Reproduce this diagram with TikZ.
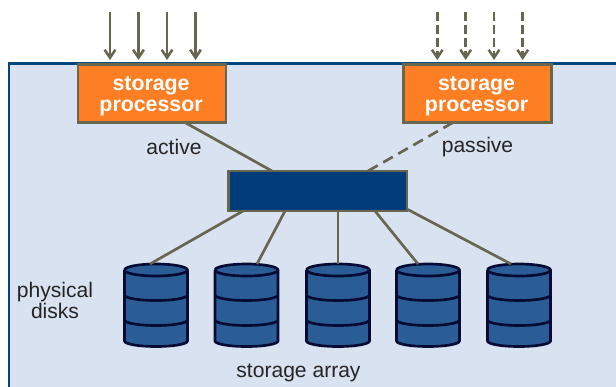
\documentclass[tikz,border=0pt]{standalone}
\usepackage{fontspec}
\setmainfont{Liberation Sans}
\usetikzlibrary{arrows.meta,calc}
\definecolor{panelblue}{HTML}{D9E2F0}
\definecolor{edgeblue}{HTML}{00477F}
\definecolor{sporange}{HTML}{FD7E23}
\definecolor{linkgrey}{HTML}{67664F}
\definecolor{switchblue}{HTML}{003B7A}
\definecolor{diskblue}{HTML}{2A5D96}
\definecolor{diskedge}{HTML}{070B33}
\definecolor{labelgrey}{HTML}{262425}
\tikzset{
    spbox/.style={draw=linkgrey, line width=2pt, fill=sporange, inner sep=0pt, outer sep=0pt,
        minimum width=111pt, minimum height=43.5pt},
    sptext/.style={text=white, align=center, font=\fontsize{16}{16}\selectfont\bfseries, xshift=-0.7pt, yshift=-2.2pt},
    switchbox/.style={draw=linkgrey, line width=2pt, fill=switchblue, inner sep=0pt, outer sep=0pt,
        minimum width=134pt, minimum height=30pt},
    diskbox/.style={inner sep=0pt, outer sep=0pt, minimum width=47.6pt, minimum height=61.5pt},
    caption/.style={text=labelgrey, align=center, font=\fontsize{15.8}{15.8}\selectfont},
    link/.style={draw=linkgrey, line width=2pt},
    feed/.style={draw=linkgrey, line width=1.9pt, -{Straight Barb[length=6pt,width=8pt,line width=1.9pt]}},
    diskline/.style={draw=diskedge, line width=2pt}
}
\begin{document}
\begin{tikzpicture}[x=0.75pt, y=-0.75pt]
    \clip (0,0) rectangle (616,386);
    \draw[edgeblue, fill=panelblue, line width=1.8pt] (9,63.5) rectangle (640,410);

    % request arrows
    \foreach \i/\x in {1/110,2/138.5,3/167,4/195.5}{
        \coordinate (a\i) at (\x,12);
        \coordinate (b\i) at (\x,60);
        \draw[feed] (a\i) -- (b\i);
    }
    \foreach \i/\x in {1/437.3,2/465.7,3/494,4/522.7}{
        \coordinate (c\i) at (\x,12);
        \coordinate (e\i) at (\x,60);
        \draw[feed, dash pattern=on 6.5pt off 3.2pt] (c\i) -- (e\i);
    }

    \node[spbox, label={[sptext]center:storage\\processor}] (sp1) at (152,93.5) {};
    \node[spbox, label={[sptext]center:storage\\processor}] (sp2) at (477.5,93.5) {};
    \node[switchbox] (sw) at (317.5,191) {};

    % disks
    \foreach \i/\x in {1/156,2/246.5,3/338,4/428,5/519}{
        \node[diskbox] (d\i) at (\x,305) {};
        \draw[diskline, fill=diskblue] (\x-31.5,270) -- (\x-31.5,341)
            arc[start angle=180, end angle=0, x radius=31.5, y radius=5.5]
            -- (\x+31.5,270) arc[start angle=0, end angle=-180, x radius=31.5, y radius=6];
        \draw[diskline] (\x-31.5,270) arc[start angle=180, end angle=0, x radius=31.5, y radius=6];
        \draw[diskline] (\x-31.5,295) arc[start angle=180, end angle=0, x radius=31.5, y radius=5.5];
        \draw[diskline] (\x-31.5,320) arc[start angle=180, end angle=0, x radius=31.5, y radius=5.5];
    }

    % connections
    \draw[link] ($(sp1.south)+(33,0)$) -- ($(sw.north)+(-45.5,0)$);
    \draw[link, dash pattern=on 8.3pt off 4.7pt] ($(sp2.south)+(-24.5,0)$) -- ($(sw.north)+(50.5,0)$);
    \draw[link] ($(sw.south)+(-74.5,0)$) -- ($(d1.north)+(-6,0)$);
    \draw[link] ($(sw.south)+(-32.5,0)$) -- ($(d2.north)+(10.5,0)$);
    \draw[link] ($(sw.south)+(20.5,0)$) -- (d3.north);
    \draw[link] ($(sw.south)+(57.5,0)$) -- ($(d4.north)+(-10,0)$);
    \draw[link] ($(sw.south east)+(0,-2)$) -- ($(d5.north)+(-8,0)$);

    \node[caption] (active) at (174,147) {active};
    \node[caption] (passive) at (477.5,147.5) {passive};
    \node[caption] (physical) at (55,300.5) {physical\\disks};
    \node[caption] (array) at (298.5,373) {storage array};
\end{tikzpicture}
\end{document}
